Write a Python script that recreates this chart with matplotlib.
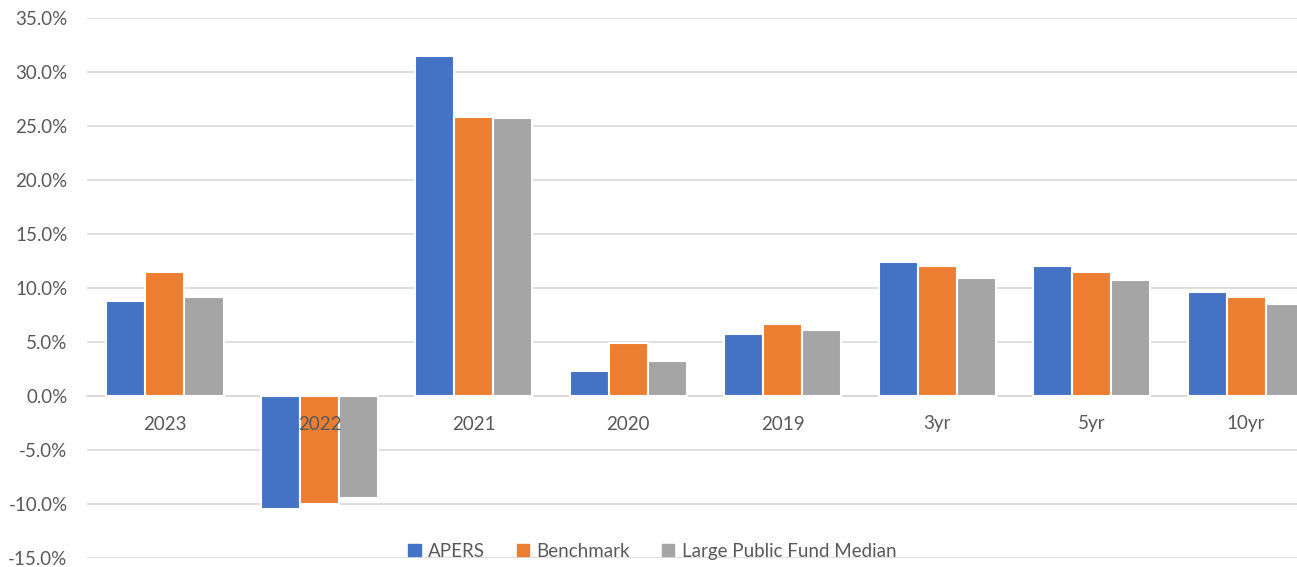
import matplotlib.pyplot as plt
import matplotlib.transforms as mtransforms
import numpy as np
from matplotlib.patches import Patch

categorias = ["2023", "2022", "2021", "2020", "2019", "3yr", "5yr", "10yr"]
apers = [8.8, -10.5, 31.5, 2.35, 5.7, 12.45, 12.0, 9.6]
benchmark = [11.5, -10.0, 25.8, 4.9, 6.65, 12.0, 11.5, 9.2]
mediana = [9.2, -9.45, 25.75, 3.2, 6.1, 10.95, 10.7, 8.5]
nomes = ["APERS", "Benchmark", "Large Public Fund Median"]
cores = ["#4472C4", "#ED7D31", "#A5A5A5"]
cor_texto = "#595959"

plt.rcParams["font.family"] = ["Lato", "DejaVu Sans"]

fig = plt.figure(figsize=(12.97, 5.67), dpi=100)
ax = fig.add_axes([87 / 1297, 9 / 567, 1210 / 1297, 540 / 567])

x = np.arange(len(categorias))
largura = 0.2526
for i, (serie, cor) in enumerate(zip([apers, benchmark, mediana], cores)):
    ax.bar(x + (i - 1) * largura, serie, largura, color=cor,
           edgecolor="white", linewidth=1.5, zorder=3)

ax.set_xlim(-0.505, 7.33)
ax.set_ylim(-15, 35)
ax.set_yticks(np.arange(-15, 36, 5))
ax.set_yticklabels(["%.1f%%" % v for v in np.arange(-15, 36, 5)])
ax.yaxis.grid(True, color="#D9D9D9", linewidth=1.2, zorder=0)
ax.set_axisbelow(True)
for lado in ["top", "right", "left"]:
    ax.spines[lado].set_visible(False)
ax.spines["bottom"].set_position(("data", 0))
ax.spines["bottom"].set_color("#D9D9D9")
ax.spines["bottom"].set_linewidth(1.2)
ax.set_xticks(x)
ax.set_xticklabels([])
ax.tick_params(axis="x", length=0)
ax.tick_params(axis="y", length=0, pad=14, labelsize=13.5, labelcolor=cor_texto)

# rotulos das categorias por cima das barras (como no excel)
desloc = mtransforms.offset_copy(ax.transData, fig=fig, x=0, y=-28, units="dots")
for xi, cat in zip(x, categorias):
    ax.text(xi, 0, cat, transform=desloc, ha="center", va="center",
            fontsize=13.5, color=cor_texto, zorder=5)

handles = [Patch(color=c) for c in cores]
fig.legend(handles, nomes, loc="center", bbox_to_anchor=(0.503, 0.028),
           ncol=3, frameon=False, fontsize=13.5, labelcolor=cor_texto,
           handlelength=0.65, handleheight=0.65, handletextpad=0.4,
           columnspacing=1.7)

plt.savefig("out.png", dpi=100)
